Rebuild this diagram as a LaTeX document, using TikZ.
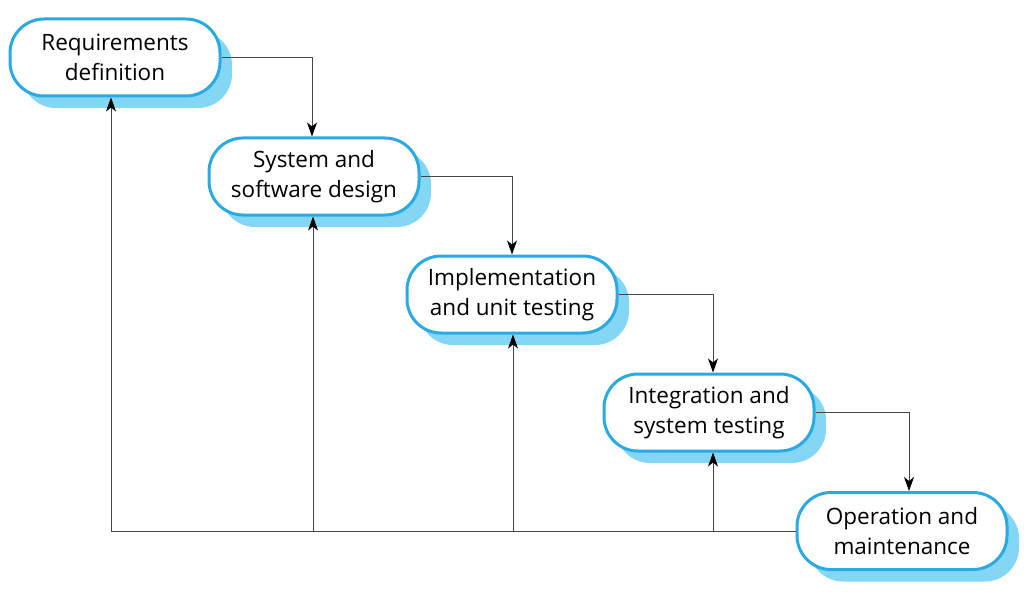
\documentclass[tikz,border=0pt]{standalone}
\usepackage{fontspec}
\setmainfont{Open Sans}
\usetikzlibrary{arrows.meta,shadows}
\definecolor{boxblue}{RGB}{41,170,226}
\definecolor{shadeblue}{RGB}{132,214,245}
\definecolor{linegray}{RGB}{70,70,70}
\tikzset{
  phase/.style={draw=boxblue, line width=3pt, fill=white, rounded corners=34pt,
    minimum width=210pt, minimum height=77pt, inner sep=0pt, align=center,
    font=\fontsize{22.5}{30}\selectfont,
    general shadow={shadow xshift=12pt, shadow yshift=-12pt, fill=shadeblue, draw=none, opacity=1}},
  conn/.style={draw=linegray, line width=1pt},
  arr/.style={conn, -{Stealth[length=14pt,width=10pt,inset=4pt,color=black]}}
}
\begin{document}
\begin{tikzpicture}[x=1pt,y=-1pt]
\useasboundingbox (0,0) rectangle (1032,596);
\node[phase] (b1) at (115,57.5) {Requirements\\definition};
\node[phase] (b2) at (314,176.5) {System and\\software design};
\node[phase] (b3) at (512,294.5) {Implementation\\and unit testing};
\node[phase] (b4) at (709,412.5) {Integration and\\system testing};
\node[phase] (b5) at (902,531) {Operation and\\maintenance};
\coordinate (bl) at (111,531);
\draw[arr] (b1.east) -| ([xshift=-2pt]b2.north);
\draw[arr] (b2.east) -| (b3.north);
\draw[arr] (b3.east) -| ([xshift=4pt]b4.north);
\draw[arr] (b4.east) -| ([xshift=7pt]b5.north);
\draw[arr] (b5.west) -- (bl) -- (bl |- b1.south);
\draw[arr] ([xshift=-1pt]bl -| b2.south) -- ([xshift=-1pt]b2.south);
\draw[arr] ([xshift=1pt]bl -| b3.south) -- ([xshift=1pt]b3.south);
\draw[arr] ([xshift=4pt]bl -| b4.south) -- ([xshift=4pt]b4.south);
\end{tikzpicture}
\end{document}
